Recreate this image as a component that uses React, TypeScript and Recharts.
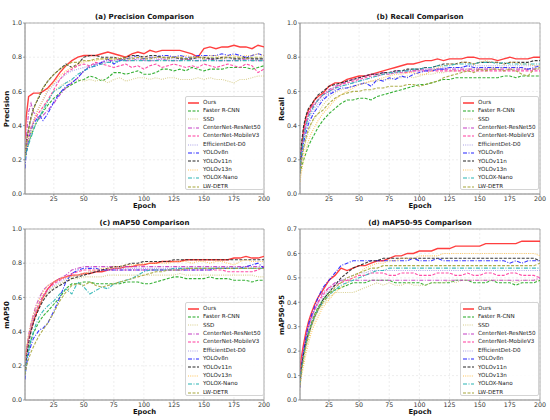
import { LineChart, Line, XAxis, YAxis, CartesianGrid, ReferenceArea, Legend } from 'recharts'

const FONT = '"DejaVu Sans", sans-serif'

// epochs sampled from the training curves
const epochs = [1, 2, 4, 6, 8, 10, 13, 16, 20, 25, 30, 35, 40, 45, 50, 55, 60, 65, 70, 75, 80, 85, 90, 95, 100, 105, 110, 115, 120, 125, 130, 135, 140, 145, 150, 155, 160, 165, 170, 175, 180, 185, 190, 195, 200]

const xTicks = [25, 50, 75, 100, 125, 150, 175, 200]
const yTicksUnit = [0, 0.2, 0.4, 0.6, 0.8, 1.0]
const yTicksMap95 = [0, 0.1, 0.2, 0.3, 0.4, 0.5, 0.6, 0.7]

// (a) Precision
const precOurs = [0.32, 0.45, 0.57, 0.58, 0.59, 0.59, 0.59, 0.60, 0.62,
  0.66, 0.71, 0.75, 0.78, 0.80, 0.81, 0.81, 0.81, 0.82,
  0.83, 0.82, 0.81, 0.80, 0.82, 0.83, 0.82, 0.84, 0.83,
  0.84, 0.84, 0.84, 0.84, 0.83, 0.82, 0.80, 0.85, 0.86,
  0.85, 0.86, 0.86, 0.87, 0.86, 0.86, 0.85, 0.87, 0.86]
const precFaster = [0.20, 0.24, 0.30, 0.34, 0.38, 0.41, 0.45, 0.48, 0.52,
  0.56, 0.59, 0.62, 0.64, 0.66, 0.67, 0.69, 0.68, 0.66,
  0.68, 0.71, 0.71, 0.70, 0.71, 0.72, 0.70, 0.70, 0.71,
  0.73, 0.73, 0.72, 0.73, 0.72, 0.74, 0.73, 0.72, 0.73,
  0.73, 0.73, 0.74, 0.74, 0.74, 0.74, 0.73, 0.74, 0.75]
const precSSD = [0.22, 0.26, 0.30, 0.34, 0.38, 0.41, 0.45, 0.50, 0.55,
  0.60, 0.63, 0.65, 0.66, 0.67, 0.66, 0.67, 0.66, 0.67,
  0.65, 0.67, 0.68, 0.66, 0.67, 0.68, 0.68, 0.67, 0.68,
  0.67, 0.68, 0.68, 0.67, 0.67, 0.67, 0.68, 0.67, 0.68,
  0.67, 0.67, 0.66, 0.65, 0.67, 0.67, 0.68, 0.69, 0.69]
const precCN50 = [0.20, 0.32, 0.48, 0.53, 0.48, 0.46, 0.44, 0.46, 0.49,
  0.53, 0.58, 0.62, 0.65, 0.68, 0.72, 0.75, 0.76, 0.77,
  0.78, 0.78, 0.79, 0.78, 0.78, 0.79, 0.78, 0.78, 0.78,
  0.79, 0.78, 0.78, 0.78, 0.79, 0.78, 0.78, 0.78, 0.79,
  0.78, 0.78, 0.78, 0.78, 0.78, 0.79, 0.78, 0.78, 0.78]
const precCNM = [0.20, 0.27, 0.35, 0.39, 0.42, 0.45, 0.48, 0.51, 0.55,
  0.61, 0.67, 0.71, 0.73, 0.75, 0.76, 0.75, 0.77, 0.76,
  0.75, 0.74, 0.75, 0.76, 0.74, 0.75, 0.73, 0.75, 0.76,
  0.74, 0.75, 0.76, 0.75, 0.74, 0.75, 0.74, 0.76, 0.75,
  0.74, 0.75, 0.76, 0.75, 0.74, 0.76, 0.75, 0.71, 0.73]
const precEff = [0.22, 0.27, 0.32, 0.38, 0.43, 0.47, 0.51, 0.55, 0.60,
  0.64, 0.67, 0.70, 0.72, 0.73, 0.74, 0.75, 0.76, 0.77,
  0.77, 0.78, 0.78, 0.79, 0.79, 0.79, 0.79, 0.79, 0.79,
  0.79, 0.79, 0.79, 0.79, 0.79, 0.79, 0.79, 0.79, 0.79,
  0.79, 0.79, 0.79, 0.79, 0.79, 0.79, 0.79, 0.79, 0.79]
const precV8 = [0.15, 0.24, 0.32, 0.37, 0.41, 0.43, 0.46, 0.43, 0.47,
  0.54, 0.59, 0.63, 0.65, 0.68, 0.72, 0.74, 0.75, 0.77,
  0.79, 0.76, 0.78, 0.79, 0.80, 0.81, 0.79, 0.80, 0.80,
  0.81, 0.81, 0.80, 0.81, 0.80, 0.80, 0.81, 0.81, 0.81,
  0.81, 0.82, 0.81, 0.82, 0.81, 0.80, 0.81, 0.82, 0.81]
const precV11 = [0.20, 0.30, 0.38, 0.45, 0.50, 0.53, 0.57, 0.62, 0.66,
  0.70, 0.73, 0.76, 0.74, 0.76, 0.80, 0.81, 0.81, 0.80,
  0.80, 0.80, 0.79, 0.80, 0.81, 0.81, 0.80, 0.81, 0.81,
  0.80, 0.80, 0.80, 0.79, 0.79, 0.79, 0.80, 0.80, 0.79,
  0.79, 0.80, 0.80, 0.79, 0.79, 0.80, 0.79, 0.79, 0.79]
const precV13 = [0.22, 0.27, 0.32, 0.37, 0.42, 0.46, 0.51, 0.55, 0.61,
  0.65, 0.69, 0.72, 0.74, 0.76, 0.77, 0.78, 0.78, 0.79,
  0.79, 0.79, 0.80, 0.80, 0.80, 0.80, 0.80, 0.80, 0.80,
  0.80, 0.80, 0.80, 0.80, 0.81, 0.80, 0.80, 0.80, 0.81,
  0.81, 0.80, 0.81, 0.81, 0.80, 0.81, 0.81, 0.82, 0.81]
const precXN = [0.20, 0.24, 0.29, 0.33, 0.37, 0.41, 0.45, 0.49, 0.54,
  0.60, 0.62, 0.65, 0.67, 0.70, 0.72, 0.74, 0.75, 0.76,
  0.77, 0.77, 0.78, 0.78, 0.78, 0.78, 0.78, 0.78, 0.78,
  0.78, 0.78, 0.78, 0.78, 0.78, 0.78, 0.78, 0.78, 0.78,
  0.78, 0.78, 0.78, 0.78, 0.78, 0.78, 0.78, 0.78, 0.78]
const precLW = [0.22, 0.30, 0.38, 0.44, 0.49, 0.53, 0.58, 0.62, 0.66,
  0.70, 0.73, 0.75, 0.77, 0.77, 0.78, 0.78, 0.79, 0.79,
  0.79, 0.79, 0.79, 0.79, 0.79, 0.80, 0.79, 0.79, 0.80,
  0.80, 0.79, 0.80, 0.80, 0.79, 0.80, 0.80, 0.79, 0.80,
  0.80, 0.79, 0.80, 0.80, 0.80, 0.79, 0.80, 0.80, 0.80]

// (b) Recall
const recOurs = [0.13, 0.25, 0.38, 0.45, 0.49, 0.51, 0.55, 0.57, 0.59,
  0.63, 0.65, 0.65, 0.67, 0.68, 0.69, 0.69, 0.70, 0.71,
  0.72, 0.73, 0.74, 0.75, 0.76, 0.76, 0.77, 0.78, 0.78,
  0.79, 0.78, 0.79, 0.79, 0.79, 0.80, 0.80, 0.79, 0.79,
  0.79, 0.78, 0.79, 0.80, 0.79, 0.79, 0.79, 0.80, 0.80]
const recFaster = [0.12, 0.15, 0.20, 0.24, 0.28, 0.31, 0.35, 0.39, 0.43,
  0.47, 0.50, 0.53, 0.55, 0.55, 0.56, 0.56, 0.55, 0.57,
  0.58, 0.59, 0.60, 0.61, 0.62, 0.63, 0.64, 0.64, 0.65,
  0.66, 0.67, 0.67, 0.68, 0.68, 0.68, 0.68, 0.68, 0.68,
  0.68, 0.68, 0.69, 0.69, 0.68, 0.69, 0.69, 0.69, 0.69]
const recSSD = [0.08, 0.15, 0.25, 0.31, 0.36, 0.40, 0.44, 0.47, 0.52,
  0.56, 0.59, 0.61, 0.62, 0.63, 0.64, 0.65, 0.66, 0.66,
  0.67, 0.67, 0.68, 0.68, 0.69, 0.68, 0.69, 0.70, 0.70,
  0.71, 0.71, 0.72, 0.72, 0.72, 0.73, 0.73, 0.73, 0.73,
  0.74, 0.74, 0.74, 0.73, 0.74, 0.73, 0.73, 0.73, 0.73]
const recCN50 = [0.14, 0.25, 0.35, 0.42, 0.47, 0.50, 0.53, 0.55, 0.58,
  0.61, 0.63, 0.64, 0.66, 0.67, 0.68, 0.69, 0.70, 0.70,
  0.71, 0.71, 0.72, 0.72, 0.72, 0.72, 0.73, 0.73, 0.73,
  0.73, 0.73, 0.73, 0.73, 0.73, 0.73, 0.73, 0.73, 0.73,
  0.73, 0.73, 0.73, 0.73, 0.73, 0.73, 0.73, 0.73, 0.73]
const recCNM = [0.14, 0.24, 0.34, 0.41, 0.46, 0.49, 0.52, 0.55, 0.58,
  0.60, 0.62, 0.64, 0.65, 0.66, 0.67, 0.68, 0.69, 0.69,
  0.70, 0.70, 0.71, 0.71, 0.71, 0.72, 0.72, 0.72, 0.72,
  0.72, 0.72, 0.72, 0.72, 0.72, 0.72, 0.72, 0.72, 0.72,
  0.72, 0.72, 0.72, 0.72, 0.72, 0.72, 0.72, 0.72, 0.72]
const recEff = [0.13, 0.22, 0.32, 0.38, 0.43, 0.46, 0.50, 0.53, 0.56,
  0.59, 0.61, 0.63, 0.64, 0.65, 0.66, 0.67, 0.68, 0.69,
  0.70, 0.70, 0.71, 0.71, 0.72, 0.72, 0.72, 0.73, 0.73,
  0.73, 0.74, 0.74, 0.74, 0.74, 0.75, 0.75, 0.75, 0.75,
  0.75, 0.75, 0.75, 0.75, 0.75, 0.75, 0.75, 0.75, 0.75]
const recV8 = [0.12, 0.20, 0.30, 0.36, 0.41, 0.44, 0.48, 0.51, 0.55,
  0.58, 0.60, 0.62, 0.62, 0.63, 0.64, 0.65, 0.63, 0.67,
  0.66, 0.68, 0.67, 0.69, 0.68, 0.70, 0.71, 0.72, 0.72,
  0.73, 0.73, 0.74, 0.74, 0.74, 0.75, 0.74, 0.74, 0.74,
  0.74, 0.74, 0.74, 0.74, 0.74, 0.74, 0.73, 0.74, 0.75]
const recV11 = [0.15, 0.28, 0.40, 0.46, 0.50, 0.52, 0.55, 0.58, 0.60,
  0.63, 0.64, 0.65, 0.66, 0.67, 0.68, 0.69, 0.70, 0.70,
  0.71, 0.71, 0.72, 0.72, 0.73, 0.73, 0.73, 0.74, 0.74,
  0.75, 0.76, 0.76, 0.76, 0.77, 0.77, 0.76, 0.77, 0.77,
  0.77, 0.77, 0.76, 0.77, 0.77, 0.77, 0.77, 0.78, 0.78]
const recV13 = [0.07, 0.12, 0.20, 0.26, 0.31, 0.35, 0.39, 0.43, 0.47,
  0.51, 0.55, 0.58, 0.60, 0.62, 0.64, 0.65, 0.66, 0.67,
  0.68, 0.69, 0.70, 0.70, 0.71, 0.71, 0.70, 0.70, 0.72,
  0.74, 0.75, 0.76, 0.76, 0.77, 0.77, 0.76, 0.77, 0.78,
  0.77, 0.77, 0.76, 0.77, 0.77, 0.76, 0.76, 0.75, 0.75]
const recXN = [0.13, 0.23, 0.33, 0.40, 0.45, 0.48, 0.52, 0.55, 0.58,
  0.60, 0.62, 0.63, 0.64, 0.65, 0.66, 0.67, 0.68, 0.69,
  0.70, 0.71, 0.71, 0.72, 0.72, 0.73, 0.73, 0.74, 0.74,
  0.75, 0.75, 0.75, 0.76, 0.76, 0.76, 0.76, 0.77, 0.77,
  0.77, 0.76, 0.77, 0.76, 0.76, 0.76, 0.76, 0.76, 0.76]
const recLW = [0.12, 0.18, 0.27, 0.33, 0.38, 0.41, 0.45, 0.47, 0.49,
  0.53, 0.56, 0.58, 0.59, 0.60, 0.60, 0.61, 0.61, 0.62,
  0.62, 0.63, 0.63, 0.63, 0.64, 0.64, 0.63, 0.64, 0.65,
  0.66, 0.68, 0.69, 0.70, 0.71, 0.72, 0.71, 0.73, 0.72,
  0.73, 0.73, 0.72, 0.73, 0.72, 0.70, 0.69, 0.73, 0.74]

// (c) mAP50
const mapOurs = [0.20, 0.28, 0.36, 0.41, 0.46, 0.50, 0.55, 0.60, 0.65,
  0.69, 0.71, 0.72, 0.73, 0.73, 0.74, 0.74, 0.75, 0.75,
  0.76, 0.77, 0.77, 0.78, 0.78, 0.79, 0.79, 0.80, 0.80,
  0.81, 0.81, 0.81, 0.81, 0.82, 0.82, 0.82, 0.82, 0.82,
  0.82, 0.82, 0.82, 0.83, 0.83, 0.84, 0.83, 0.83, 0.84]
const mapFaster = [0.20, 0.24, 0.30, 0.35, 0.39, 0.42, 0.46, 0.49, 0.52,
  0.56, 0.60, 0.65, 0.68, 0.68, 0.69, 0.69, 0.68, 0.68,
  0.68, 0.68, 0.68, 0.69, 0.69, 0.69, 0.68, 0.68, 0.69,
  0.70, 0.71, 0.72, 0.72, 0.71, 0.71, 0.71, 0.71, 0.72,
  0.71, 0.71, 0.71, 0.70, 0.70, 0.70, 0.69, 0.70, 0.70]
const mapSSD = [0.22, 0.29, 0.37, 0.43, 0.48, 0.52, 0.56, 0.59, 0.63,
  0.66, 0.68, 0.70, 0.71, 0.71, 0.72, 0.72, 0.72, 0.72,
  0.73, 0.73, 0.73, 0.73, 0.73, 0.73, 0.73, 0.73, 0.73,
  0.73, 0.73, 0.73, 0.74, 0.73, 0.73, 0.73, 0.73, 0.73,
  0.73, 0.73, 0.73, 0.73, 0.73, 0.73, 0.73, 0.72, 0.72]
const mapCN50 = [0.15, 0.28, 0.38, 0.45, 0.50, 0.55, 0.60, 0.64, 0.67,
  0.69, 0.71, 0.73, 0.76, 0.77, 0.78, 0.78, 0.78, 0.78,
  0.78, 0.78, 0.78, 0.78, 0.78, 0.78, 0.78, 0.78, 0.78,
  0.78, 0.78, 0.78, 0.78, 0.78, 0.78, 0.78, 0.78, 0.78,
  0.78, 0.78, 0.78, 0.78, 0.78, 0.78, 0.78, 0.78, 0.78]
const mapCNM = [0.15, 0.25, 0.35, 0.42, 0.48, 0.52, 0.57, 0.61, 0.65,
  0.68, 0.70, 0.72, 0.74, 0.75, 0.76, 0.76, 0.76, 0.76,
  0.76, 0.76, 0.76, 0.76, 0.76, 0.76, 0.76, 0.76, 0.76,
  0.76, 0.76, 0.76, 0.76, 0.76, 0.76, 0.76, 0.76, 0.76,
  0.76, 0.76, 0.75, 0.75, 0.75, 0.75, 0.75, 0.76, 0.78]
const mapEff = [0.16, 0.26, 0.36, 0.43, 0.48, 0.52, 0.57, 0.61, 0.64,
  0.67, 0.69, 0.71, 0.72, 0.73, 0.74, 0.75, 0.75, 0.76,
  0.76, 0.77, 0.77, 0.77, 0.77, 0.77, 0.77, 0.77, 0.77,
  0.77, 0.77, 0.77, 0.77, 0.77, 0.77, 0.77, 0.77, 0.77,
  0.77, 0.77, 0.77, 0.77, 0.77, 0.77, 0.77, 0.77, 0.77]
const mapV8 = [0.12, 0.20, 0.27, 0.32, 0.36, 0.38, 0.41, 0.42, 0.45,
  0.52, 0.60, 0.69, 0.74, 0.76, 0.77, 0.77, 0.77, 0.76,
  0.76, 0.76, 0.76, 0.76, 0.76, 0.76, 0.76, 0.76, 0.76,
  0.76, 0.76, 0.76, 0.76, 0.76, 0.76, 0.76, 0.76, 0.76,
  0.77, 0.77, 0.77, 0.77, 0.77, 0.78, 0.79, 0.80, 0.77]
const mapV11 = [0.15, 0.24, 0.33, 0.40, 0.45, 0.49, 0.54, 0.58, 0.62,
  0.65, 0.67, 0.69, 0.71, 0.72, 0.73, 0.74, 0.75, 0.76,
  0.77, 0.78, 0.78, 0.79, 0.80, 0.80, 0.81, 0.81, 0.81,
  0.81, 0.81, 0.82, 0.82, 0.82, 0.82, 0.82, 0.82, 0.82,
  0.82, 0.82, 0.82, 0.82, 0.82, 0.82, 0.82, 0.82, 0.82]
const mapV13 = [0.20, 0.29, 0.38, 0.45, 0.50, 0.54, 0.59, 0.63, 0.67,
  0.69, 0.71, 0.72, 0.72, 0.73, 0.74, 0.75, 0.76, 0.77,
  0.77, 0.78, 0.78, 0.79, 0.79, 0.79, 0.80, 0.80, 0.80,
  0.80, 0.80, 0.81, 0.81, 0.81, 0.80, 0.81, 0.81, 0.80,
  0.81, 0.81, 0.80, 0.79, 0.81, 0.82, 0.81, 0.81, 0.81]
const mapXN = [0.15, 0.22, 0.29, 0.35, 0.40, 0.44, 0.49, 0.52, 0.55,
  0.58, 0.62, 0.65, 0.62, 0.69, 0.66, 0.62, 0.64, 0.66,
  0.65, 0.68, 0.69, 0.70, 0.71, 0.73, 0.75, 0.76, 0.76,
  0.76, 0.76, 0.77, 0.77, 0.77, 0.77, 0.77, 0.77, 0.77,
  0.77, 0.77, 0.77, 0.77, 0.77, 0.77, 0.77, 0.77, 0.77]
const mapLW = [0.15, 0.19, 0.24, 0.28, 0.31, 0.34, 0.38, 0.41, 0.45,
  0.51, 0.58, 0.63, 0.67, 0.68, 0.67, 0.69, 0.67, 0.66,
  0.67, 0.68, 0.69, 0.70, 0.71, 0.72, 0.73, 0.74, 0.75,
  0.75, 0.76, 0.76, 0.76, 0.77, 0.77, 0.77, 0.77, 0.77,
  0.77, 0.77, 0.77, 0.77, 0.77, 0.77, 0.77, 0.77, 0.77]

// (d) mAP50-95
const m95Ours = [0.12, 0.17, 0.23, 0.28, 0.32, 0.35, 0.39, 0.42, 0.45,
  0.49, 0.51, 0.54, 0.53, 0.54, 0.55, 0.55, 0.56, 0.57,
  0.57, 0.58, 0.59, 0.59, 0.60, 0.60, 0.61, 0.61, 0.61,
  0.62, 0.62, 0.62, 0.63, 0.63, 0.63, 0.63, 0.63, 0.64,
  0.64, 0.64, 0.64, 0.64, 0.64, 0.65, 0.65, 0.65, 0.65]
const m95Faster = [0.08, 0.13, 0.19, 0.24, 0.28, 0.31, 0.35, 0.38, 0.41,
  0.44, 0.45, 0.46, 0.47, 0.48, 0.48, 0.48, 0.49, 0.49,
  0.49, 0.49, 0.48, 0.48, 0.48, 0.48, 0.48, 0.47, 0.48,
  0.48, 0.48, 0.48, 0.49, 0.49, 0.49, 0.48, 0.48, 0.48,
  0.49, 0.48, 0.48, 0.48, 0.47, 0.48, 0.48, 0.48, 0.49]
const m95SSD = [0.05, 0.10, 0.16, 0.21, 0.25, 0.29, 0.33, 0.36, 0.39,
  0.42, 0.44, 0.44, 0.44, 0.44, 0.45, 0.46, 0.47, 0.48,
  0.47, 0.48, 0.47, 0.47, 0.48, 0.47, 0.47, 0.47, 0.48,
  0.48, 0.48, 0.49, 0.48, 0.49, 0.49, 0.49, 0.49, 0.49,
  0.49, 0.49, 0.49, 0.49, 0.48, 0.49, 0.49, 0.49, 0.49]
const m95CN50 = [0.08, 0.14, 0.21, 0.26, 0.30, 0.33, 0.37, 0.40, 0.44,
  0.46, 0.48, 0.49, 0.49, 0.49, 0.49, 0.49, 0.49, 0.49,
  0.49, 0.49, 0.49, 0.49, 0.49, 0.49, 0.49, 0.49, 0.49,
  0.49, 0.49, 0.49, 0.49, 0.49, 0.49, 0.49, 0.49, 0.49,
  0.49, 0.49, 0.49, 0.49, 0.49, 0.49, 0.49, 0.49, 0.50]
const m95CNM = [0.08, 0.14, 0.21, 0.26, 0.30, 0.33, 0.37, 0.40, 0.43,
  0.46, 0.47, 0.48, 0.49, 0.50, 0.51, 0.51, 0.52, 0.52,
  0.52, 0.51, 0.51, 0.52, 0.52, 0.52, 0.51, 0.51, 0.51,
  0.52, 0.52, 0.52, 0.51, 0.51, 0.52, 0.51, 0.51, 0.52,
  0.52, 0.51, 0.51, 0.52, 0.52, 0.51, 0.51, 0.51, 0.50]
const m95Eff = [0.07, 0.13, 0.20, 0.25, 0.29, 0.32, 0.36, 0.39, 0.42,
  0.45, 0.47, 0.49, 0.50, 0.51, 0.52, 0.52, 0.53, 0.53,
  0.53, 0.53, 0.53, 0.53, 0.53, 0.53, 0.53, 0.53, 0.53,
  0.53, 0.53, 0.53, 0.53, 0.53, 0.53, 0.53, 0.53, 0.53,
  0.53, 0.53, 0.53, 0.53, 0.53, 0.53, 0.53, 0.53, 0.53]
const m95V8 = [0.05, 0.12, 0.20, 0.26, 0.31, 0.34, 0.38, 0.42, 0.46,
  0.49, 0.52, 0.55, 0.56, 0.57, 0.57, 0.57, 0.57, 0.57,
  0.57, 0.57, 0.57, 0.57, 0.57, 0.58, 0.57, 0.57, 0.57,
  0.58, 0.57, 0.57, 0.57, 0.57, 0.57, 0.57, 0.57, 0.57,
  0.57, 0.57, 0.57, 0.56, 0.57, 0.56, 0.57, 0.57, 0.57]
const m95V11 = [0.07, 0.13, 0.19, 0.24, 0.27, 0.30, 0.34, 0.37, 0.41,
  0.44, 0.47, 0.50, 0.52, 0.54, 0.55, 0.56, 0.57, 0.57,
  0.58, 0.58, 0.58, 0.58, 0.58, 0.58, 0.58, 0.58, 0.58,
  0.58, 0.58, 0.58, 0.58, 0.58, 0.58, 0.58, 0.58, 0.58,
  0.58, 0.58, 0.58, 0.58, 0.58, 0.58, 0.58, 0.58, 0.57]
const m95V13 = [0.05, 0.09, 0.14, 0.19, 0.23, 0.27, 0.31, 0.34, 0.38,
  0.41, 0.44, 0.46, 0.48, 0.50, 0.52, 0.54, 0.55, 0.56,
  0.56, 0.57, 0.57, 0.58, 0.58, 0.58, 0.59, 0.59, 0.59,
  0.59, 0.60, 0.60, 0.60, 0.60, 0.60, 0.60, 0.60, 0.60,
  0.60, 0.60, 0.60, 0.60, 0.60, 0.60, 0.60, 0.60, 0.59]
const m95XN = [0.07, 0.12, 0.18, 0.23, 0.27, 0.30, 0.34, 0.37, 0.40,
  0.43, 0.45, 0.47, 0.48, 0.49, 0.50, 0.51, 0.52, 0.53,
  0.53, 0.54, 0.54, 0.54, 0.54, 0.54, 0.54, 0.54, 0.54,
  0.54, 0.54, 0.54, 0.54, 0.54, 0.54, 0.54, 0.54, 0.54,
  0.54, 0.54, 0.54, 0.54, 0.54, 0.54, 0.54, 0.54, 0.54]
const m95LW = [0.06, 0.11, 0.17, 0.22, 0.26, 0.30, 0.34, 0.37, 0.40,
  0.43, 0.46, 0.48, 0.50, 0.51, 0.52, 0.53, 0.54, 0.54,
  0.55, 0.55, 0.55, 0.55, 0.55, 0.55, 0.55, 0.55, 0.55,
  0.55, 0.55, 0.55, 0.55, 0.55, 0.55, 0.55, 0.55, 0.55,
  0.55, 0.55, 0.55, 0.55, 0.55, 0.55, 0.55, 0.55, 0.56]

type Series = { name: string; color: string; dash?: string; width: number }

const SERIES: Series[] = [
  { name: 'Ours', color: '#ff2a2a', width: 1.4 },
  { name: 'Faster R-CNN', color: '#22a822', dash: '3 1.5', width: 1.1 },
  { name: 'SSD', color: '#d6cc88', dash: '1 1.2', width: 1.1 },
  { name: 'CenterNet-ResNet50', color: '#c43ec4', dash: '4 1.5 1 1.5', width: 1.1 },
  { name: 'CenterNet-MobileV3', color: '#ff3b9d', dash: '3 1.5', width: 1.1 },
  { name: 'EfficientDet-D0', color: '#a99fe6', dash: '1 1.2', width: 1.1 },
  { name: 'YOLOv8n', color: '#2424ff', dash: '4 1.5 1 1.5', width: 1.1 },
  { name: 'YOLOv11n', color: '#262626', dash: '3 1.5', width: 1.1 },
  { name: 'YOLOv13n', color: '#ffc456', dash: '1 1.2', width: 1.1 },
  { name: 'YOLOX-Nano', color: '#28b4b4', dash: '4 1.5 1 1.5', width: 1.1 },
  { name: 'LW-DETR', color: '#a6a63a', dash: '3 1.5', width: 1.1 },
]

const buildRows = (cols: number[][]) =>
  epochs.map((epoch, i) => {
    const row: Record<string, number> = { epoch }
    cols.forEach((col, j) => {
      row[`s${j}`] = col[i]
    })
    return row
  })

const LegendBox = () => (
  <div
    style={{
      width: 79,
      height: 94,
      boxSizing: 'border-box',
      border: '0.8px solid #d4d4d4',
      borderRadius: 2,
      background: 'rgba(255,255,255,0.85)',
      padding: '1.5px 0 0 1.5px',
      fontFamily: FONT,
      fontSize: 5.6,
      color: '#222',
    }}
  >
    {SERIES.map((s) => (
      <div key={s.name} style={{ display: 'flex', alignItems: 'center', height: 8.4 }}>
        <svg width={11} height={4} style={{ marginRight: 4.5, flex: 'none' }}>
          <line x1={0} y1={2} x2={11} y2={2} stroke={s.color} strokeWidth={s.width} strokeDasharray={s.dash} />
        </svg>
        <span style={{ lineHeight: 1, whiteSpace: 'nowrap' }}>{s.name}</span>
      </div>
    ))}
  </div>
)

type PanelProps = {
  title: string
  yLabel: string
  rows: Record<string, number>[]
  yMax: number
  yTicks: number[]
  plotTop: number
  plotBottom: number
  right: number
  legendTop: number
}

const W = 275
const H = 210
const PLOT_LEFT = 25

const Panel = ({ title, yLabel, rows, yMax, yTicks, plotTop, plotBottom, right, legendTop }: PanelProps) => {
  const plotRight = W - right
  const midX = (PLOT_LEFT + plotRight) / 2
  const midY = (plotTop + plotBottom) / 2
  const tickStyle = { fontSize: 6.3, fill: '#333', fontFamily: FONT }
  return (
    <div style={{ position: 'relative', width: W, height: H }}>
      <LineChart width={W} height={H} data={rows} margin={{ top: plotTop, right, bottom: H - plotBottom - 16, left: 0 }}>
        <CartesianGrid stroke="#e3e3e3" strokeDasharray="2 2" strokeWidth={0.6} />
        <XAxis
          dataKey="epoch"
          type="number"
          domain={[1, 200]}
          ticks={xTicks}
          allowDataOverflow
          height={16}
          tickSize={2}
          tickMargin={1}
          tick={tickStyle}
          axisLine={{ stroke: '#9a9a9a', strokeWidth: 0.8 }}
          tickLine={{ stroke: '#666', strokeWidth: 0.6 }}
        />
        <YAxis
          type="number"
          domain={[0, yMax]}
          ticks={yTicks}
          allowDataOverflow
          width={PLOT_LEFT}
          tickSize={2}
          tickMargin={1}
          tick={tickStyle}
          tickFormatter={(v: number) => v.toFixed(1)}
          axisLine={{ stroke: '#9a9a9a', strokeWidth: 0.8 }}
          tickLine={{ stroke: '#666', strokeWidth: 0.6 }}
        />
        {SERIES.map((s, j) => (
          <Line
            key={s.name}
            dataKey={`s${j}`}
            name={s.name}
            type="linear"
            stroke={s.color}
            strokeWidth={s.width}
            strokeDasharray={s.dash}
            strokeOpacity={0.9}
            dot={false}
            activeDot={false}
            isAnimationActive={false}
          />
        ))}
        <ReferenceArea x1={1} x2={200} y1={0} y2={yMax} fill="none" stroke="#9a9a9a" strokeWidth={0.8} />
        <Legend
          layout="vertical"
          align="center"
          verticalAlign="middle"
          content={LegendBox}
          wrapperStyle={{ left: 185, top: legendTop, width: 79, height: 94 }}
        />
      </LineChart>
      <div
        style={{
          position: 'absolute',
          left: midX - 100,
          width: 200,
          top: plotTop - 11,
          lineHeight: '10px',
          textAlign: 'center',
          fontFamily: FONT,
          fontWeight: 'bold',
          fontSize: 7,
          color: '#111',
        }}
      >
        {title}
      </div>
      <div
        style={{
          position: 'absolute',
          left: midX - 40,
          width: 80,
          top: plotBottom + 7,
          lineHeight: '10px',
          textAlign: 'center',
          fontFamily: FONT,
          fontWeight: 'bold',
          fontSize: 6.8,
          color: '#111',
        }}
      >
        Epoch
      </div>
      <div
        style={{
          position: 'absolute',
          left: 7,
          top: midY,
          transform: 'translate(-50%, -50%) rotate(-90deg)',
          lineHeight: '10px',
          whiteSpace: 'nowrap',
          fontFamily: FONT,
          fontWeight: 'bold',
          fontSize: 7,
          color: '#111',
        }}
      >
        {yLabel}
      </div>
    </div>
  )
}

const precRows = buildRows([precOurs, precFaster, precSSD, precCN50, precCNM, precEff, precV8, precV11, precV13, precXN, precLW])
const recRows = buildRows([recOurs, recFaster, recSSD, recCN50, recCNM, recEff, recV8, recV11, recV13, recXN, recLW])
const mapRows = buildRows([mapOurs, mapFaster, mapSSD, mapCN50, mapCNM, mapEff, mapV8, mapV11, mapV13, mapXN, mapLW])
const m95Rows = buildRows([m95Ours, m95Faster, m95SSD, m95CN50, m95CNM, m95Eff, m95V8, m95V11, m95V13, m95XN, m95LW])

export default function App() {
  return (
    <div style={{ position: 'absolute', left: 0, top: 0, width: 550, height: 420, background: '#fff' }}>
      <div style={{ position: 'absolute', left: 0, top: 0 }}>
        <Panel title="(a) Precision Comparison" yLabel="Precision" rows={precRows} yMax={1} yTicks={yTicksUnit} plotTop={23} plotBottom={194} right={11} legendTop={96} />
      </div>
      <div style={{ position: 'absolute', left: 275, top: 0 }}>
        <Panel title="(b) Recall Comparison" yLabel="Recall" rows={recRows} yMax={1} yTicks={yTicksUnit} plotTop={23} plotBottom={194} right={10} legendTop={96} />
      </div>
      <div style={{ position: 'absolute', left: 0, top: 210 }}>
        <Panel title="(c) mAP50 Comparison" yLabel="mAP50" rows={mapRows} yMax={1} yTicks={yTicksUnit} plotTop={19} plotBottom={190} right={11} legendTop={92} />
      </div>
      <div style={{ position: 'absolute', left: 275, top: 210 }}>
        <Panel title="(d) mAP50-95 Comparison" yLabel="mAP50-95" rows={m95Rows} yMax={0.7} yTicks={yTicksMap95} plotTop={19} plotBottom={190} right={10} legendTop={92} />
      </div>
    </div>
  )
}
